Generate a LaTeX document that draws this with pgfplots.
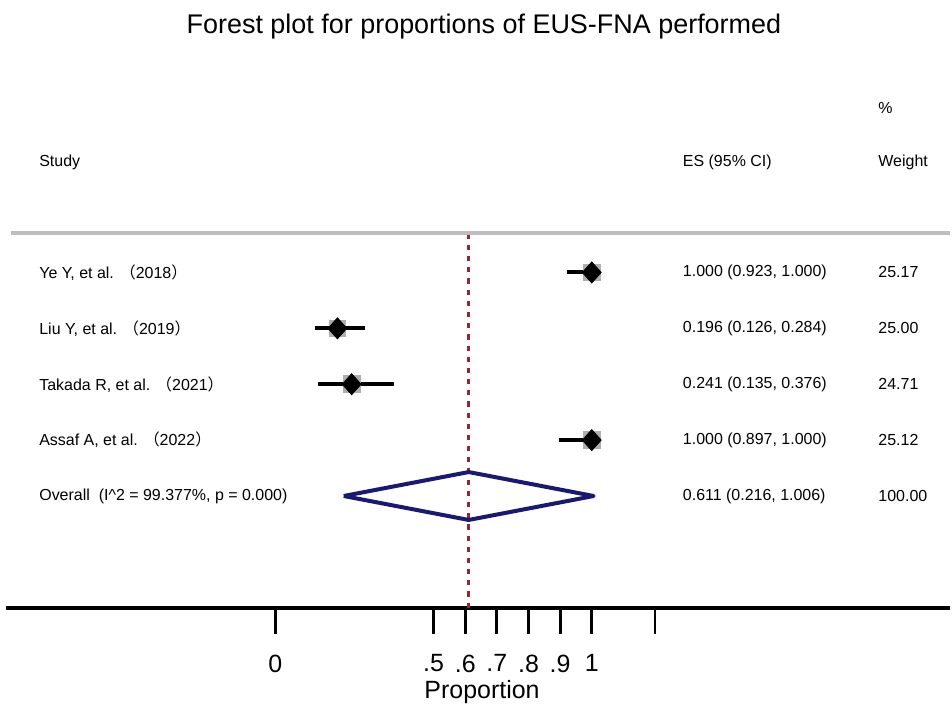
\documentclass[border=0pt]{standalone}
\usepackage{fontspec}
\setmainfont{Liberation Sans}
\newfontfamily\cjk{Noto Sans CJK SC}
\usepackage{pgfplots}
\usepackage{pgfplotstable}
\pgfplotsset{compat=1.18}
\definecolor{maroonline}{RGB}{155,35,50}
\definecolor{navyd}{RGB}{25,25,110}
\definecolor{boxgray}{RGB}{175,175,175}
\definecolor{rulegray}{RGB}{190,190,190}

% es  lo  hi  row-y
\pgfplotstableread{
es lo hi y
1.000 0.923 1.000 434
0.196 0.126 0.284 378
0.241 0.135 0.376 322
1.000 0.897 1.000 266
}\studies

\begin{document}
\begin{tikzpicture}
\begin{axis}[
  scale only axis, width=473pt, height=304.5pt,
  xmin=-0.852, xmax=2.1325, ymin=98, ymax=707,
  axis x line*=bottom, axis y line=none,
  x axis line style={line width=1.8pt, -},
  xtick={0,0.5,0.6,0.7,0.8,0.9,1,1.2},
  xticklabels={0,.5,.6,.7,.8,.9,1,{}},
  tick align=outside, major tick length=13pt,
  xtick style={line width=1.4pt, black},
  xticklabel style={font=\fontsize{12.5}{13}\selectfont, yshift=-7pt},
  /pgf/number format/assume math mode=true,
  clip=false,
]
% extend bounding box to the full canvas
\path (axis cs:-0.8707,707) -- (axis cs:2.1325,0);
% header rule
\addplot[rulegray, line width=2pt] coordinates {(-0.836,474) (2.1325,474)};
% line at overall estimate
\addplot[maroonline, line width=1.6pt, dash pattern=on 2.6pt off 3pt] coordinates {(0.611,98) (0.611,472)};
% weight boxes
\addplot[only marks, mark=square*, mark size=4.2pt, boxgray, mark options={draw=boxgray, fill=boxgray}] table[x=es, y=y] {\studies};
% confidence intervals
\addplot[black, line width=2pt] coordinates {(0.923,434) (1.000,434)};
\addplot[black, line width=2pt] coordinates {(0.126,378) (0.284,378)};
\addplot[black, line width=2pt] coordinates {(0.135,322) (0.376,322)};
\addplot[black, line width=2pt] coordinates {(0.897,266) (1.000,266)};
% point estimates
\addplot[only marks, mark=diamond*, mark size=5.25pt, black, mark options={xscale=1.2, fill=black}] table[x=es, y=y] {\studies};
% overall diamond
\addplot[navyd, line width=2pt, line join=round] coordinates {(0.216,210) (0.611,234) (1.006,210) (0.611,186) (0.216,210)};

% title
\node[font=\fontsize{13.5}{15}\selectfont] at (axis cs:0.659,680) {Forest plot for proportions of EUS-FNA performed};
% axis title
\node[anchor=base, font=\fontsize{12.5}{13}\selectfont, inner sep=0pt] at (axis cs:0.653,7) {Proportion};
% headers and rows
\begin{scope}[every node/.style={anchor=west, font=\fontsize{8}{9}\selectfont, inner sep=0pt}]
\node at (axis cs:1.905,599) {\%};
\node at (axis cs:-0.7476,544) {Study};
\node at (axis cs:1.287,544) {ES (95\% CI)};
\node at (axis cs:1.905,544) {Weight};
\node at (axis cs:-0.7476,434) {Ye Y, et al. {\cjk （}2018{\cjk ）}};
\node at (axis cs:-0.7476,378) {Liu Y, et al. {\cjk （}2019{\cjk ）}};
\node at (axis cs:-0.7476,322) {Takada R, et al. {\cjk （}2021{\cjk ）}};
\node at (axis cs:-0.7476,266) {Assaf A, et al. {\cjk （}2022{\cjk ）}};
\node at (axis cs:-0.7476,210) {Overall\ \ (I\^{}2 = 99.377\%, p = 0.000)};
\node at (axis cs:1.287,434) {1.000 (0.923, 1.000)};
\node at (axis cs:1.287,378) {0.196 (0.126, 0.284)};
\node at (axis cs:1.287,322) {0.241 (0.135, 0.376)};
\node at (axis cs:1.287,266) {1.000 (0.897, 1.000)};
\node at (axis cs:1.287,210) {0.611 (0.216, 1.006)};
\node at (axis cs:1.905,434) {25.17};
\node at (axis cs:1.905,378) {25.00};
\node at (axis cs:1.905,322) {24.71};
\node at (axis cs:1.905,266) {25.12};
\node at (axis cs:1.905,210) {100.00};
\end{scope}
\end{axis}
\end{tikzpicture}
\end{document}
